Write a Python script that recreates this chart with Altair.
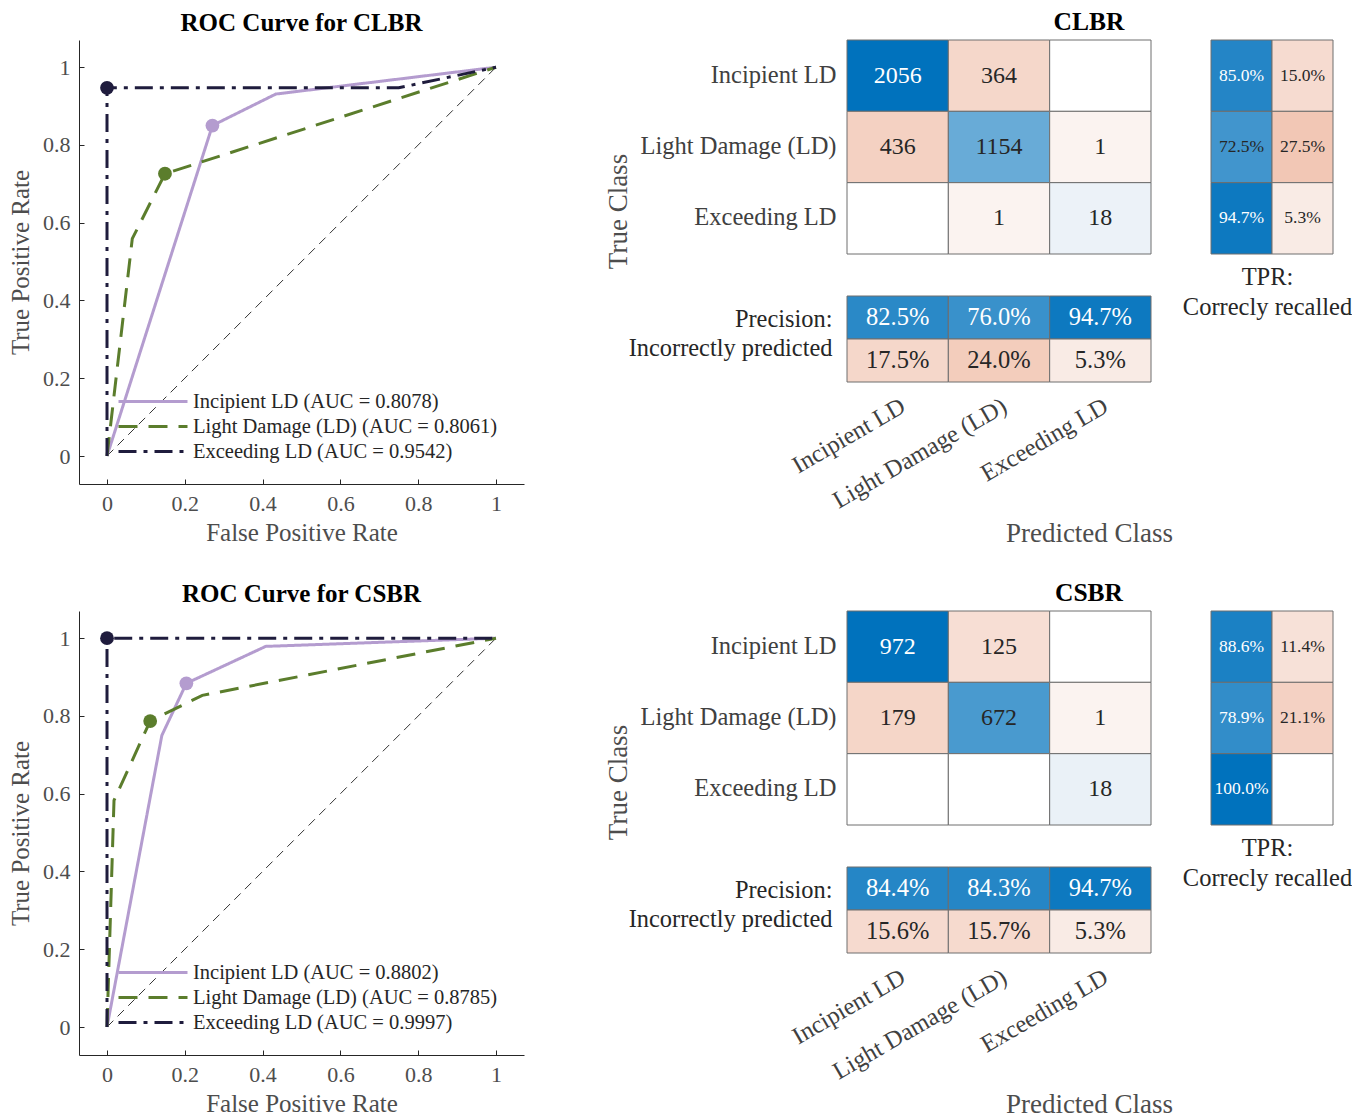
import altair as alt
import pandas as pd

FONT = "Liberation Serif"
AX = "#4d4d4d"      # tick label / axis title colour
AXL = "#262626"     # axis line colour
TXT = "#262626"
GRIDC = "#6e6e6e"

classes = ["Incipient LD", "Light Damage (LD)", "Exceeding LD"]
ticks = [0, 0.2, 0.4, 0.6, 0.8, 1]
diag_x = [0, 1]
diag_y = [0, 1]
line_colors = ["#b49ccf", "#5b7d2c", "#1f1c3d"]
line_dashes = [[1, 0], [19, 11], [18, 7, 4, 7]]

# ---- ROC curves ----
clbr_fpr = [[0, 0.271, 0.434, 1], [0, 0.065, 0.149, 1], [0, 0, 0.75, 1]]
clbr_tpr = [[0, 0.850, 0.931, 1], [0, 0.559, 0.726, 1], [0, 0.947, 0.947, 1]]
clbr_auc = [0.8078, 0.8061, 0.9542]
clbr_op_fpr = [0.271, 0.149, 0.0]
clbr_op_tpr = [0.850, 0.726, 0.947]

csbr_fpr = [[0, 0.141, 0.204, 0.408, 1], [0, 0.018, 0.111, 0.245, 1], [0, 0, 1]]
csbr_tpr = [[0, 0.750, 0.884, 0.979, 1], [0, 0.583, 0.787, 0.853, 1], [0, 1, 1]]
csbr_auc = [0.8802, 0.8785, 0.9997]
csbr_op_fpr = [0.204, 0.111, 0.0]
csbr_op_tpr = [0.884, 0.787, 1.0]

# ---- confusion charts ----
clbr_counts = [[2056, 364, 0], [436, 1154, 1], [0, 1, 18]]
clbr_precision = [82.5, 76.0, 94.7]
clbr_false_disc = [17.5, 24.0, 5.3]
clbr_recall = [85.0, 72.5, 94.7]
clbr_miss = [15.0, 27.5, 5.3]

csbr_counts = [[972, 125, 0], [179, 672, 1], [0, 0, 18]]
csbr_precision = [84.4, 84.3, 94.7]
csbr_false_disc = [15.6, 15.7, 5.3]
csbr_recall = [88.6, 78.9, 100.0]
csbr_miss = [11.4, 21.1, 0.0]

SHADE = alt.Scale(domain=[-1, -0.0004, 0, 0.0004, 1],
                  range=["#D95319", "#FBF3F0", "#FFFFFF", "#EEF3F8", "#0072BD"],
                  interpolate="rgb", clamp=True)


def roc_chart(name, fprs, tprs, aucs, op_f, op_t):
    labels = [f"{c} (AUC = {a:.4f})" for c, a in zip(classes, aucs)]
    rows = []
    for lab, fx, ty in zip(labels, fprs, tprs):
        for i, (a, b) in enumerate(zip(fx, ty)):
            rows.append({"series": lab, "fpr": a, "tpr": b, "i": i})
    df = pd.DataFrame(rows)
    op = pd.DataFrame({"series": labels, "fpr": op_f, "tpr": op_t})
    diag = pd.DataFrame({"fpr": diag_x, "tpr": diag_y})

    xs = alt.Scale(domain=[-0.072, 1.072], nice=False, zero=False)
    ys = alt.Scale(domain=[-0.072, 1.07], nice=False, zero=False)
    common = dict(values=ticks, format="~g", grid=False, labelFontSize=22,
                  titleFontSize=25, titleFontWeight="normal", labelColor=AX,
                  titleColor=AX, domainColor=AXL, tickColor=AXL,
                  tickSize=alt.ExprRef("-5"), labelFlush=False)
    xaxis = alt.Axis(title="False Positive Rate", labelPadding=14, titlePadding=6, **common)
    yaxis = alt.Axis(title="True Positive Rate", labelPadding=14, titlePadding=9, **common)
    leg = alt.Legend(title=None, orient="none", legendX=38, legendY=349,
                     symbolType="stroke", symbolSize=4761, symbolStrokeWidth=3,
                     clipHeight=25, labelFontSize=20.5, labelColor=TXT, labelFont=FONT,
                     labelOffset=4, rowPadding=0, padding=0, labelLimit=600)
    color = alt.Color("series:N", scale=alt.Scale(domain=labels, range=line_colors), legend=leg)
    dash = alt.StrokeDash("series:N", scale=alt.Scale(domain=labels, range=line_dashes), legend=leg)

    d = alt.Chart(diag).mark_line(color="black", strokeWidth=0.8, strokeDash=[9, 6]).encode(
        x=alt.X("fpr:Q", scale=xs, axis=xaxis), y=alt.Y("tpr:Q", scale=ys, axis=yaxis))
    lines = alt.Chart(df).mark_line(strokeWidth=3).encode(
        x="fpr:Q", y="tpr:Q", color=color, strokeDash=dash, order="i:Q")
    pts = alt.Chart(op).mark_circle(size=190, opacity=1).encode(
        x="fpr:Q", y="tpr:Q",
        color=alt.Color("series:N", scale=alt.Scale(domain=labels, range=line_colors), legend=None))
    return alt.layer(d, lines, pts).properties(
        width=445, height=444,
        title=alt.TitleParams(f"ROC Curve for {name}", fontSize=25, fontWeight="bold",
                              color="black", offset=4.5, font=FONT))


def confusion_group(name, counts, prec, fdisc, recall, miss):
    mx = max(max(r) for r in counts)
    cm_rows = []
    for r, tc in enumerate(classes):
        for c, pc in enumerate(classes):
            v = counts[r][c]
            cm_rows.append({"true": tc, "pred": pc, "n": v,
                            "shade": (v / mx) if r == c else -(v / mx),
                            "label": str(v) if v > 0 else ""})
    cm = pd.DataFrame(cm_rows)
    band = dict(paddingInner=0, paddingOuter=0)
    xsc = alt.Scale(domain=classes, **band)
    ysc = alt.Scale(domain=classes, **band)

    base = alt.Chart(cm).encode(
        x=alt.X("pred:N", scale=xsc, axis=None),
        y=alt.Y("true:N", scale=ysc, axis=alt.Axis(
            title="True Class", labelFontSize=24.5, labelPadding=11, labelColor="#404040",
            ticks=False, domain=False, titleFontSize=27, titleFontWeight="normal",
            titleColor=AX, titleAngle=270, titleX=-229, titleY=171,
            titleAlign="center", titleBaseline="middle", labelLimit=400)))
    main = alt.layer(
        base.mark_rect(stroke=GRIDC, strokeWidth=1).encode(
            color=alt.Color("shade:Q", scale=SHADE, legend=None)),
        base.mark_text(fontSize=24, font=FONT).encode(
            text="label:N",
            color=alt.condition("datum.shade > 0.74", alt.value("white"), alt.value(TXT))),
    ).properties(width=304, height=214,
                 title=alt.TitleParams(name, fontSize=25.5, fontWeight="bold", color="black",
                                       dx=90, offset=4, font=FONT))

    tp_rows = []
    for r, tc in enumerate(classes):
        tp_rows.append({"true": tc, "k": "TPR", "v": recall[r] / 100, "shade": recall[r] / 100})
        tp_rows.append({"true": tc, "k": "FNR", "v": miss[r] / 100, "shade": -miss[r] / 100})
    tp = pd.DataFrame(tp_rows)
    tbase = alt.Chart(tp).encode(
        x=alt.X("k:N", scale=alt.Scale(domain=["TPR", "FNR"], **band), axis=alt.Axis(
            labels=False, ticks=False, domain=False, title=["TPR:", "Correcly recalled"],
            titleFontSize=24.5, titleFontWeight="normal", titleColor=TXT, titlePadding=11,
            titleLineHeight=30, titleX=56, titleAlign="center")),
        y=alt.Y("true:N", scale=ysc, axis=None))
    tpr_chart = alt.layer(
        tbase.mark_rect(stroke=GRIDC, strokeWidth=1).encode(
            color=alt.Color("shade:Q", scale=SHADE, legend=None)),
        tbase.transform_filter("datum.v > 0").mark_text(fontSize=17.5, font=FONT).encode(
            text=alt.Text("v:Q", format=".1%"),
            color=alt.condition("datum.shade > 0.74", alt.value("white"), alt.value(TXT))),
    ).properties(width=122, height=214)

    metrics = ["Precision:", "Incorrectly predicted"]
    pr_rows = []
    for c, pc in enumerate(classes):
        pr_rows.append({"metric": metrics[0], "pred": pc, "v": prec[c] / 100, "shade": prec[c] / 100})
        pr_rows.append({"metric": metrics[1], "pred": pc, "v": fdisc[c] / 100, "shade": -fdisc[c] / 100})
    pr = pd.DataFrame(pr_rows)
    pbase = alt.Chart(pr).encode(
        x=alt.X("pred:N", scale=xsc, axis=alt.Axis(
            labelAngle=330, labelAlign="right", labelBaseline="top", labelFontSize=24.5,
            labelColor="#404040", labelPadding=12, ticks=False, domain=False,
            title="Predicted Class", titleFontSize=27, titleFontWeight="normal",
            titleColor=AX, titleX=242, titleY=151, titleAlign="center",
            titleBaseline="middle", labelLimit=400)),
        y=alt.Y("metric:N", scale=alt.Scale(domain=metrics, **band), axis=alt.Axis(
            title=None, labelFontSize=24.4, labelColor=TXT, labelPadding=15, ticks=False,
            domain=False, labelLimit=400,
            labelOffset={"condition": {"test": "datum.value == 'Precision:'", "value": 2},
                         "value": -12})))
    prec_chart = alt.layer(
        pbase.mark_rect(stroke=GRIDC, strokeWidth=1).encode(
            color=alt.Color("shade:Q", scale=SHADE, legend=None)),
        pbase.transform_filter("datum.v > 0").mark_text(fontSize=24.5, font=FONT).encode(
            text=alt.Text("v:Q", format=".1%"),
            color=alt.condition("datum.shade > 0.74", alt.value("white"), alt.value(TXT))),
    ).properties(width=304, height=86)

    return alt.concat(main, tpr_chart, prec_chart, columns=2,
                      spacing={"row": 42, "column": 60}, bounds="flush", align="each")


def row(name, fprs, tprs, aucs, op_f, op_t, counts, prec, fdisc, recall, miss):
    return alt.hconcat(
        roc_chart(name, fprs, tprs, aucs, op_f, op_t),
        confusion_group(name, counts, prec, fdisc, recall, miss),
        spacing=80,
    ).resolve_scale(color="independent", strokeDash="independent")


top = row("CLBR", clbr_fpr, clbr_tpr, clbr_auc, clbr_op_fpr, clbr_op_tpr,
          clbr_counts, clbr_precision, clbr_false_disc, clbr_recall, clbr_miss)
bottom = row("CSBR", csbr_fpr, csbr_tpr, csbr_auc, csbr_op_fpr, csbr_op_tpr,
             csbr_counts, csbr_precision, csbr_false_disc, csbr_recall, csbr_miss)

chart = (
    alt.vconcat(top, bottom, spacing=35)
    .resolve_scale(color="independent", strokeDash="independent")
    .properties(padding={"left": 0, "top": 2, "right": 0, "bottom": 0})
    .configure(font=FONT)
    .configure_view(stroke=None)
    .configure_axis(labelFont=FONT, titleFont=FONT)
    .configure_title(font=FONT)
    .configure_legend(labelFont=FONT)
)

chart.save("out.html", embed_options={"renderer": "svg", "actions": False})
